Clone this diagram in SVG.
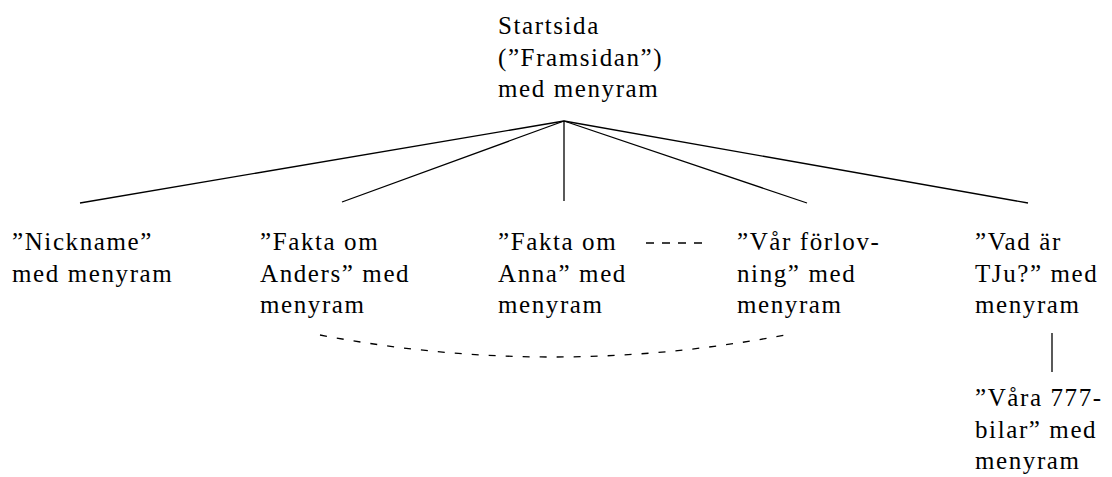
<svg xmlns="http://www.w3.org/2000/svg" width="1112" height="477" viewBox="0 0 1112 477">
<style>
.t{font-family:'Liberation Serif','Times New Roman',serif;font-size:25px;letter-spacing:1.6px;fill:#000}
.c{stroke:#000;stroke-width:1.3;fill:none}
.d{stroke-dasharray:8 8}
.d2{stroke-dasharray:7 10}
</style>
<rect width="1112" height="477" fill="#fff"/>
<g id="connectors">
<line class="c" x1="564" y1="121" x2="80" y2="203"/>
<line class="c" x1="564" y1="121" x2="342" y2="202"/>
<line class="c" x1="564" y1="121" x2="564" y2="201"/>
<line class="c" x1="564" y1="121" x2="807" y2="203"/>
<line class="c" x1="564" y1="121" x2="1028" y2="203"/>
<line class="c d" x1="646" y1="243" x2="704" y2="243"/>
<path class="c d2" d="M320 335 Q552 379 785 335"/>
<line class="c" x1="1052" y1="333" x2="1052" y2="372"/>
</g>
<g class="t" font-family="Liberation Serif, serif">
<g id="startsida"><text x="498" y="34">Startsida</text><text x="498" y="65.5">(”Framsidan”)</text><text x="498" y="97">med menyram</text></g>
<g id="nickname"><text x="12" y="250">”Nickname”</text><text x="12" y="281.5">med menyram</text></g>
<g id="anders"><text x="260" y="250">”Fakta om</text><text x="260" y="281.5">Anders” med</text><text x="260" y="313">menyram</text></g>
<g id="anna"><text x="498" y="250">”Fakta om</text><text x="498" y="281.5">Anna” med</text><text x="498" y="313">menyram</text></g>
<g id="forlovning"><text x="737" y="250">”Vår förlov-</text><text x="737" y="281.5">ning” med</text><text x="737" y="313">menyram</text></g>
<g id="tju"><text x="975" y="250">”Vad är</text><text x="975" y="281.5">TJu?” med</text><text x="975" y="313">menyram</text></g>
<g id="bilar"><text x="975" y="406">”Våra 777-</text><text x="975" y="437.5">bilar” med</text><text x="975" y="469">menyram</text></g>
</g>
</svg>
